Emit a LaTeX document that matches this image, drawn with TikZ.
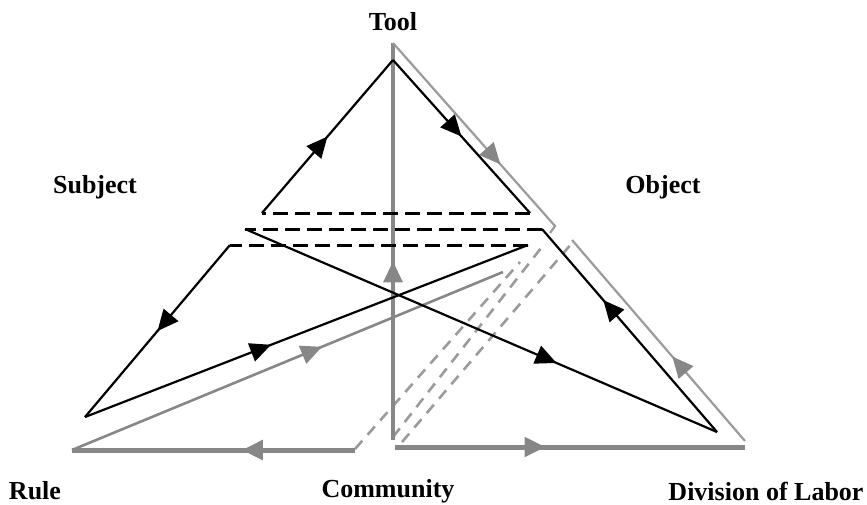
\documentclass[tikz,border=0pt]{standalone}
\usepackage{fontspec}
\setmainfont{Liberation Serif}
\usetikzlibrary{arrows.meta,decorations.markings}

\definecolor{grislinea}{RGB}{135,135,135}
\definecolor{grisclaro}{RGB}{155,155,155}

\tikzset{
    lineaN/.style={line width=2.2pt,black},
    lineaG/.style={line width=3.2pt,grislinea},
    lineaGc/.style={line width=2.2pt,grisclaro},
    lineaGb/.style={line width=5pt,grislinea},
    trazoN/.style={line width=3pt,black,dash pattern=on 15pt off 7pt},
    trazoG/.style={line width=2.6pt,grisclaro,dash pattern=on 11pt off 8pt},
    flechaN/.style={postaction={decorate,decoration={markings,
        mark=at position #1 with {\arrow{Triangle[length=21pt,width=19pt]}}}}},
    flechaG/.style={postaction={decorate,decoration={markings,
        mark=at position #1 with {\arrow[grislinea]{Triangle[length=21pt,width=19pt]}}}}},
    etiq/.style={font=\fontsize{26}{29}\selectfont\bfseries,inner sep=0pt}
}

\begin{document}
\begin{tikzpicture}[x=1pt,y=-1pt]
    \useasboundingbox (0,0) rectangle (867,504);

    %Etiquetas
    \node[etiq] (tool) at (393,22) {Tool};
    \node[etiq] (subject) at (95,187) {Subject};
    \node[etiq] (object) at (663,187) {Object};
    \node[etiq] (rule) at (35,491) {Rule};
    \node[etiq] (community) at (388,491) {Community};
    \node[etiq] (division) at (766,491) {Division of Labor};

    %Vertices negros
    \coordinate (sA) at (262,213);
    \coordinate (tA) at (393,60);
    \coordinate (oA) at (530,213);
    \coordinate (sB) at (245,229);
    \coordinate (dB) at (717,432);
    \coordinate (oB) at (542,229);
    \coordinate (sC) at (230,245);
    \coordinate (rC) at (85,417);
    \coordinate (oC) at (528,245);

    %Vertices grises
    \coordinate (tG) at (393,43);
    \coordinate (cG) at (393,440);
    \coordinate (oG) at (555,226);
    \coordinate (hG) at (550,233);
    \coordinate (cR) at (395,447);
    \coordinate (dG) at (745,447);
    \coordinate (dG2) at (745,441);
    \coordinate (oR) at (572,240);
    \coordinate (cL) at (355,450);
    \coordinate (rG) at (72,450);
    \coordinate (eG) at (503,272);

    %Diagonales discontinuas
    \coordinate (p1) at (355,449);
    \coordinate (q1) at (520,262);
    \coordinate (p2) at (393,437);
    \coordinate (q2) at (545,243);
    \coordinate (p3) at (402,442);
    \coordinate (q3) at (572,243);
    \foreach \i in {1,2,3}{
        \draw[trazoG] (p\i) -- (q\i);
    }

    %Lineas grises
    \draw[lineaG,flechaG=0.45] (cG) -- (tG);
    \draw[lineaGc,flechaG=0.64] (tG) -- (oG) -- (hG);
    \draw[lineaGb,flechaG=0.43] (cR) -- (dG);
    \draw[lineaGc,flechaG=0.42] (dG2) -- (oR);
    \draw[lineaGb,flechaG=0.4] (cL) -- (rG);
    \draw[lineaG,line width=2.6pt,flechaG=0.58] (rG) -- (eG);

    %Lineas discontinuas negras
    \draw[trazoN] (oA) -- (sA);
    \draw[trazoN] (oB) -- (sB);
    \draw[trazoN] (oC) -- (sC);

    %Ciclos negros
    \draw[lineaN,flechaN=0.5] (sA) -- (tA);
    \draw[lineaN,flechaN=0.5] (tA) -- (oA);
    \draw[lineaN,flechaN=0.66] (sB) -- (dB);
    \draw[lineaN,flechaN=0.65] (dB) -- (oB);
    \draw[lineaN,flechaN=0.5] (sC) -- (rC);
    \draw[lineaN,flechaN=0.42] (rC) -- (oC);

\end{tikzpicture}
\end{document}
